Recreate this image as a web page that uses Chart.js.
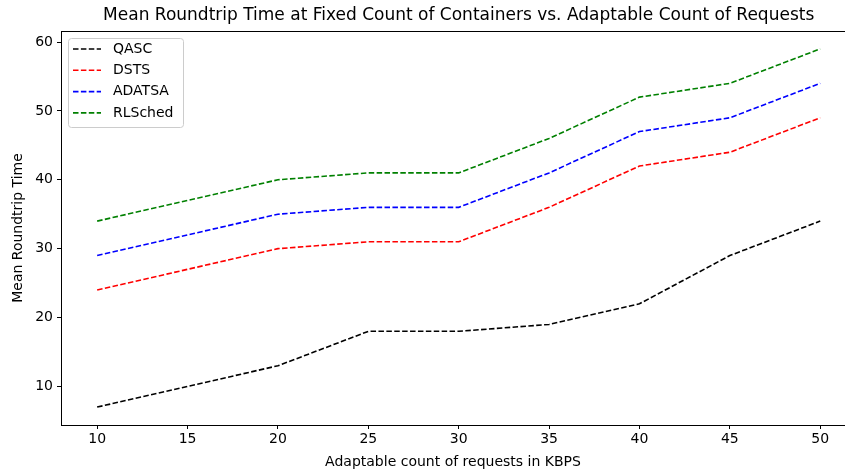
<!DOCTYPE html>
<html><head><meta charset="utf-8">
<script src="https://cdn.jsdelivr.net/npm/chart.js@4.4.0/dist/chart.umd.min.js"></script>
<style>html,body{margin:0;padding:0;overflow:hidden;background:#fff;width:845px;height:475px}</style>
</head><body><canvas id="c" width="845" height="475"></canvas>
<script>
const requests = [10, 20, 25, 30, 35, 40, 45, 50];
const qasc    = [7, 13, 18, 18, 19, 22, 29, 34];
const dsts    = [24, 30, 31, 31, 36, 42, 44, 49];
const adatsa  = [29, 35, 36, 36, 41, 47, 49, 54];
const rlsched = [34, 40, 41, 41, 46, 52, 54, 59];
const xTicks = [10, 15, 20, 25, 30, 35, 40, 45, 50];
const yTicks = [10, 20, 30, 40, 50, 60];
const titleText = 'Mean Roundtrip Time at Fixed Count of Containers vs. Adaptable Count of Requests';

const FONT = "'DejaVu Sans', sans-serif";
function ds(label, vals, color) {
  return {label, data: requests.map((x,i)=>({x, y: vals[i]})), borderColor: color, backgroundColor: color,
    borderWidth: 1.6, borderDash: [5.5, 2.4], pointRadius: 0, fill: false, tension: 0};
}

const framePlugin = {
  id: 'frame',
  afterDraw(chart) {
    const {ctx, chartArea: a} = chart;
    ctx.save();
    ctx.strokeStyle = '#000'; ctx.lineWidth = 1;
    ctx.lineCap = 'butt';
    const seg = (x1, y1, x2, y2) => { ctx.beginPath(); ctx.moveTo(x1, y1); ctx.lineTo(x2, y2); ctx.stroke(); };
    seg(a.left, a.top + 0.5, a.right, a.top + 0.5);
    seg(a.left + 0.5, a.top, a.left + 0.5, a.bottom);
    seg(a.left, a.bottom + 0.5, a.right, a.bottom + 0.5);
    // title, centred over the full axes (which extend past the right edge)
    const xs = chart.scales.x;
    const fullRight = xs.getPixelForValue(52);
    ctx.fillStyle = '#000';
    ctx.font = '17px ' + FONT;
    ctx.textAlign = 'center'; ctx.textBaseline = 'middle';
    ctx.fillText(titleText, (a.left + fullRight) / 2, 16);
    // legend
    const x0 = 68, y0 = 38, w = 115, h = 89;
    ctx.beginPath();
    ctx.roundRect(x0 + 0.5, y0 + 0.5, w, h, 3);
    ctx.fillStyle = 'rgba(255,255,255,0.8)'; ctx.fill();
    ctx.strokeStyle = '#cccccc'; ctx.lineWidth = 1; ctx.stroke();
    ctx.font = '14px ' + FONT;
    ctx.textAlign = 'left';
    chart.data.datasets.forEach((d, i) => {
      const y = 49 + i * 21.3;
      ctx.strokeStyle = d.borderColor; ctx.lineWidth = 1.6;
      ctx.setLineDash([5.5, 2.4]);
      ctx.beginPath(); ctx.moveTo(73, y); ctx.lineTo(101, y); ctx.stroke();
      ctx.setLineDash([]);
      ctx.fillStyle = '#000';
      ctx.fillText(d.label, 113, y);
    });
    ctx.restore();
  }
};

new Chart(document.getElementById('c'), {
  type: 'line',
  data: { datasets: [ds('QASC', qasc, '#000000'), ds('DSTS', dsts, '#ff0000'), ds('ADATSA', adatsa, '#0000ff'), ds('RLSched', rlsched, '#008000')] },
  options: {
    responsive: false, animation: false, devicePixelRatio: 1,
    layout: {padding: {left: 0, right: 0, top: 31, bottom: 0}},
    plugins: {legend: {display: false}, title: {display: false}, tooltip: {enabled: false}},
    scales: {
      x: {type: 'linear', min: 8, max: 51.37,
        afterBuildTicks: s => { s.ticks = xTicks.map(v => ({value: v})); },
        afterFit: s => { s.height = 50; },
        grid: {drawOnChartArea: false, drawTicks: true, tickLength: 4, tickColor: '#000', tickWidth: 1},
        border: {display: false},
        ticks: {color: '#000', font: {family: FONT, size: 14}, padding: 2, maxRotation: 0},
        title: {display: true, text: 'Adaptable count of requests in KBPS', color: '#000', font: {family: FONT, size: 14}, padding: {top: 2, bottom: 4}}
      },
      y: {type: 'linear', min: 4.4, max: 61.6,
        afterBuildTicks: s => { s.ticks = yTicks.map(v => ({value: v})); },
        afterFit: s => { s.width = 61; },
        grid: {drawOnChartArea: false, drawTicks: true, tickLength: 4, tickColor: '#000', tickWidth: 1},
        border: {display: false},
        ticks: {color: '#000', font: {family: FONT, size: 14}, padding: 4},
        title: {display: true, text: 'Mean Roundtrip Time', color: '#000', font: {family: FONT, size: 14}, padding: {top: 10, bottom: 2}}
      }
    }
  },
  plugins: [framePlugin]
});
</script></body></html>
